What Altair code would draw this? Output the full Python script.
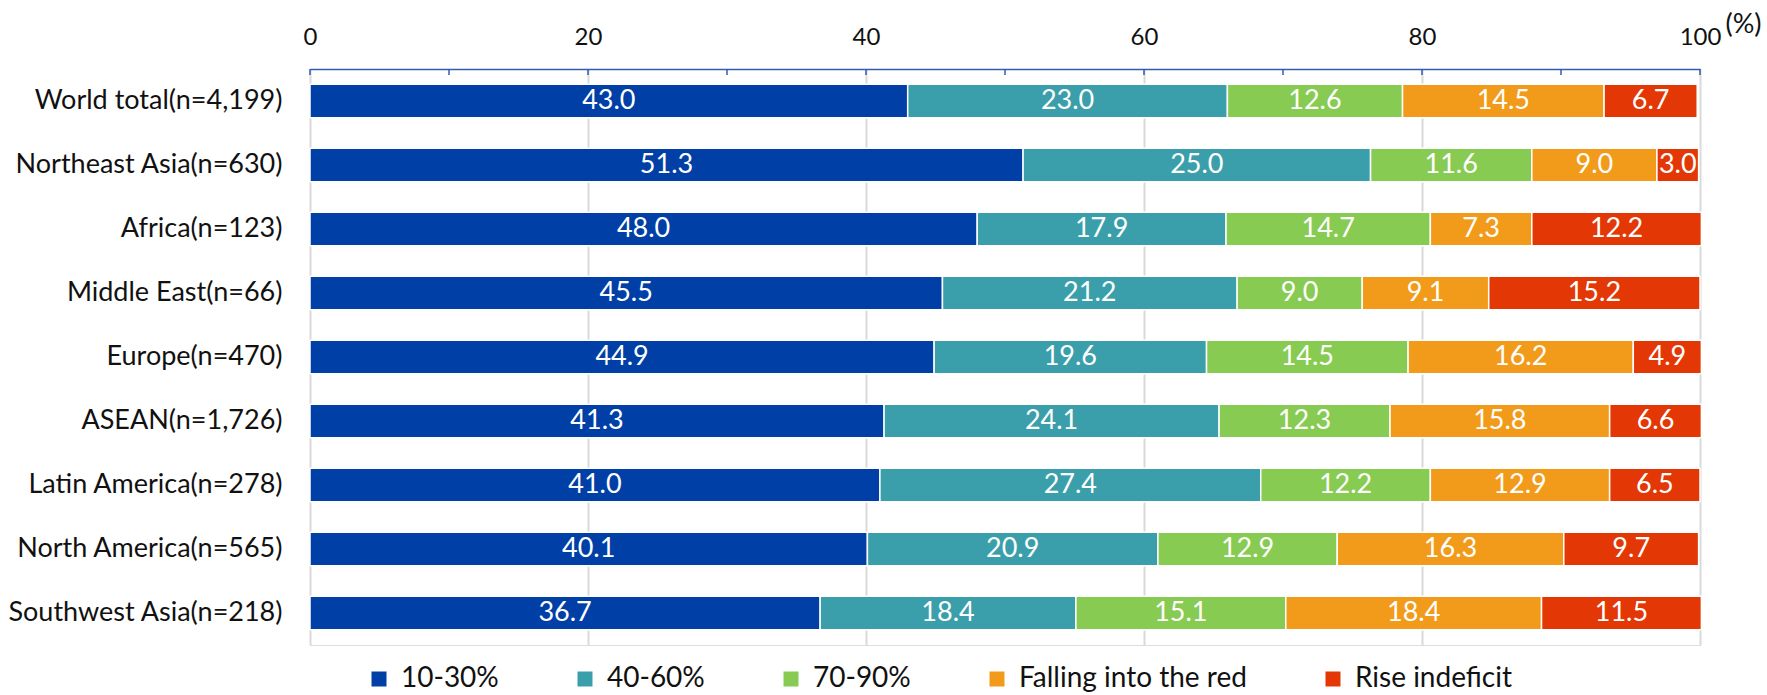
import altair as alt
import pandas as pd

regions = [
    "World total(n=4,199)",
    "Northeast Asia(n=630)",
    "Africa(n=123)",
    "Middle East(n=66)",
    "Europe(n=470)",
    "ASEAN(n=1,726)",
    "Latin America(n=278)",
    "North America(n=565)",
    "Southwest Asia(n=218)",
]
series = ["10-30%", "40-60%", "70-90%", "Falling into the red", "Rise indeficit"]
colors = ["#0040A6", "#3A9FAA", "#88CB52", "#F29B1A", "#E33805"]

share_10_30 = [43.0, 51.3, 48.0, 45.5, 44.9, 41.3, 41.0, 40.1, 36.7]
share_40_60 = [23.0, 25.0, 17.9, 21.2, 19.6, 24.1, 27.4, 20.9, 18.4]
share_70_90 = [12.6, 11.6, 14.7, 9.0, 14.5, 12.3, 12.2, 12.9, 15.1]
share_red = [14.5, 9.0, 7.3, 9.1, 16.2, 15.8, 12.9, 16.3, 18.4]
share_rise = [6.7, 3.0, 12.2, 15.2, 4.9, 6.6, 6.5, 9.7, 11.5]

axis_ticks = [0, 10, 20, 30, 40, 50, 60, 70, 80, 90, 100]

columns = [share_10_30, share_40_60, share_70_90, share_red, share_rise]
rows = []
for s_idx, (name, vals) in enumerate(zip(series, columns)):
    for region, v in zip(regions, vals):
        rows.append({"region": region, "series": name, "order": s_idx, "value": v})
df = pd.DataFrame(rows)
ticks_df = pd.DataFrame({"t": axis_ticks})

FONT = "Lato"

x_scale = alt.Scale(domain=[0, 100], nice=False, zero=True)
y_scale = alt.Scale(domain=regions, paddingInner=0.48, paddingOuter=0.24)

base = alt.Chart(df).transform_stack(
    stack="value",
    groupby=["region"],
    as_=["x0", "x1"],
    sort=[alt.SortField("order", order="ascending")],
).transform_calculate(mid="(datum.x0 + datum.x1) / 2")

bars = base.mark_bar(stroke="white", strokeWidth=1.5).encode(
    x=alt.X(
        "x0:Q",
        scale=x_scale,
        axis=alt.Axis(
            orient="top",
            values=[0, 20, 40, 60, 80, 100],
            title="(%)",
            titleFont=FONT,
            titleFontSize=27,
            titleFontWeight="normal",
            titleColor="#111",
            titleAngle=0,
            titleAlign="left",
            titleBaseline="middle",
            titleX=1415,
            titleY=-45,
            labelFont=FONT,
            labelFontSize=24,
            labelColor="#111",
            labelPadding=20,
            labelFlush=False,
            ticks=False,
            domain=True,
            domainColor="#2F5DB5",
            domainWidth=1.5,
            grid=True,
            gridColor="#D9D9D9",
            gridWidth=2,
        ),
    ),
    x2="x1:Q",
    y=alt.Y(
        "region:N",
        scale=y_scale,
        sort=regions,
        axis=alt.Axis(
            title=None,
            domain=False,
            ticks=False,
            labelFont=FONT,
            labelFontSize=27,
            labelColor="#111",
            labelPadding=28,
            labelLimit=500,
        ),
    ),
    color=alt.Color(
        "series:N",
        scale=alt.Scale(domain=series, range=colors),
        sort=series,
        legend=alt.Legend(
            title=None,
            orient="none",
            direction="horizontal",
            columns=5,
            legendX=55,
            legendY=596,
            labelFont=FONT,
            labelFontSize=28,
            labelColor="#111",
            labelLimit=500,
            symbolType="square",
            symbolSize=225,
            symbolStrokeWidth=0,
            symbolOpacity=1,
            columnPadding=72,
            labelOffset=8,
        ),
    ),
)

labels = base.mark_text(
    color="white", font=FONT, fontSize=27, baseline="middle", align="center"
).encode(
    x=alt.X("mid:Q", scale=x_scale),
    y=alt.Y("region:N", scale=y_scale, sort=regions),
    text=alt.Text("value:Q", format=".1f"),
)

# small blue ticks hanging below the top axis line, every 10%
minor_ticks = alt.Chart(ticks_df).mark_rule(color="#2F5DB5", strokeWidth=1.5).encode(
    x=alt.X("t:Q", scale=x_scale),
    y=alt.value(0),
    y2=alt.value(6),
)

chart = (
    alt.layer(bars, labels, minor_ticks)
    .properties(
        width=1390,
        height=576,
        autosize=alt.AutoSizeParams(type="none"),
        padding={"left": 310, "top": 69, "right": 67, "bottom": 50},
    )
    .configure_view(stroke=None)
    .configure(background="white")
)

chart.save("out.html", embed_options={"renderer": "svg", "actions": False})
